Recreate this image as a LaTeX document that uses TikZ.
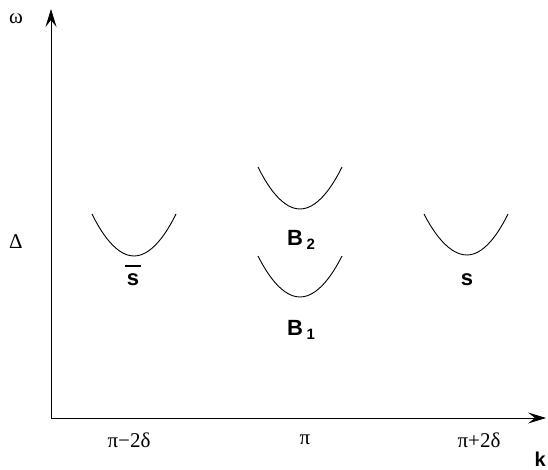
\documentclass[tikz,border=0pt]{standalone}
\usepackage{fontspec}
\setmainfont{Liberation Serif}
\newfontfamily\lsans{Liberation Sans}
\usetikzlibrary{arrows.meta}
\begin{document}
\begin{tikzpicture}[x=1pt,y=-1pt,
  axis/.style={line width=0.8pt,-{Stealth[length=18pt,width=11pt,inset=7pt]}},
  band/.style={line width=0.9pt},
  serlab/.style={font=\fontsize{21}{21}\selectfont, inner sep=0pt},
  blab/.style={font=\lsans\bfseries\fontsize{22}{22}\selectfont, inner sep=0pt}]
\useasboundingbox (0,0) rectangle (548,470);
\coordinate (O) at (51,418);
\coordinate (ytop) at (51,9);
\coordinate (xend) at (546,418);
\draw[axis] (O) -- (ytop);
\draw[axis] (O) -- (xend);
\node[serlab] (om) at (16,19) {ω};
\node[serlab] (De) at (16,242) {Δ};
\node[serlab] (t1) at (129,440) {π−2δ};
\node[serlab] (t2) at (305,440) {π};
\node[serlab] (t3) at (479,440) {π+2δ};
\node[blab, font=\lsans\bfseries\fontsize{20}{20}\selectfont, anchor=base east] (k) at (546,466) {k};
\draw[band] (92,214) parabola bend (134,256) (176,214);
\draw[band] (258,167) parabola bend (300,209) (342,167);
\draw[band] (258,256) parabola bend (300,297) (342,256);
\draw[band] (424,214) parabola bend (467,255) (508,214);
\node[blab] (sb) at (133,280) {s};
\draw[line width=2.4pt] (125,266) -- (141,266);
\node[blab] (s) at (467,280) {s};
\node[blab, anchor=base] (B2) at (301,245) {B\,\raisebox{-0.35ex}{\fontsize{15}{15}\selectfont 2}};
\node[blab, anchor=base] (B1) at (301,335) {B\,\raisebox{-0.35ex}{\fontsize{15}{15}\selectfont 1}};
\end{tikzpicture}
\end{document}
